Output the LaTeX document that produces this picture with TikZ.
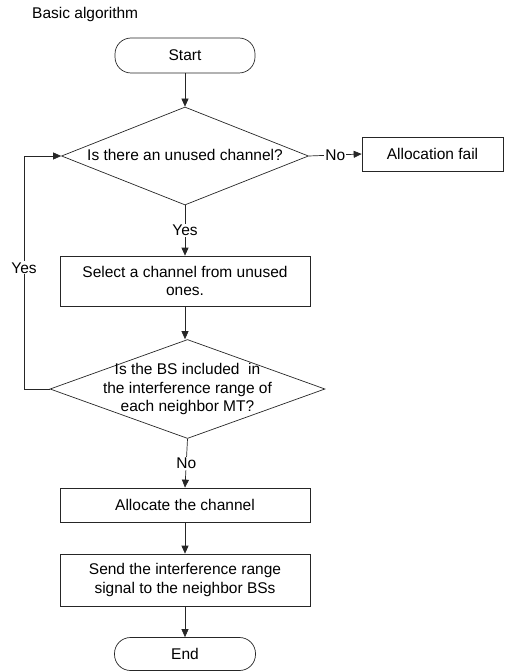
\documentclass[tikz,border=0pt]{standalone}
\usepackage{fontspec}
\setmainfont{Liberation Sans}
\usetikzlibrary{shapes.geometric,arrows.meta}
\begin{document}
\begin{tikzpicture}[x=1pt,y=1pt,
  every node/.style={font=\fontsize{15.5}{18.5}\selectfont},
  line/.style={draw=black!85, line width=0.7pt},
  arr/.style={line, -{Triangle[length=8pt,width=7pt]}},
  proc/.style={line, rectangle, minimum width=250pt, inner sep=0pt, align=center},
  term/.style={line, rectangle, rounded corners=16pt, minimum width=141pt, minimum height=33pt, inner sep=0pt},
  dec/.style={line, diamond, inner sep=0pt},
  lbl/.style={fill=white, inner sep=1pt}
]
\useasboundingbox (0,0) rectangle (505,-671);
\node[anchor=west, inner sep=0pt] (title) at (32,-14) {Basic algorithm};
\node[term, minimum width=140pt, minimum height=35pt] (start) at (185,-55.5) {Start};
\node[dec, minimum width=247pt, minimum height=98pt] (d1) at (185,-156) {};
\node (d1t) at (185,-155) {Is there an unused channel?};
\node[proc, minimum width=141pt, minimum height=34pt] (fail) at (432.5,-154) {Allocation fail};
\node[proc, minimum height=50pt] (sel) at (185,-281) {Select a channel from unused\\ones.};
\node[dec, minimum width=275pt, minimum height=99pt] (d2) at (187.5,-389) {};
\node[align=center] (d2t) at (187.5,-389) {Is the BS included\ \ in\\the interference range of\\each neighbor MT?};
\node[proc, minimum height=34pt] (alloc) at (185,-505) {Allocate the channel};
\node[proc, minimum height=52pt] (send) at (185,-580) {Send the interference range\\signal to the neighbor BSs};
\node[term] (end) at (185,-654) {End};
\coordinate (lt) at (24,-156);
\coordinate (lb) at (24,-389);
\draw[arr] (start) -- (d1.north);
\draw[arr] (d1.east) -- node[lbl] (lno1) {No} (fail.west);
\draw[arr] (d1.south) -- node[lbl, pos=0.5] (lyes1) {Yes} (sel.north);
\draw[arr] (sel) -- (sel.south |- d2.north);
\draw[arr] (d2.west) -- (lb) -- node[lbl, pos=0.52] (lyes2) {Yes} (lt) -- (d1.west);
\draw[arr] (d2.south) -- node[lbl] (lno2) {No} (alloc.north);
\draw[arr] (alloc) -- (send);
\draw[arr] (send) -- (end);
\end{tikzpicture}
\end{document}
